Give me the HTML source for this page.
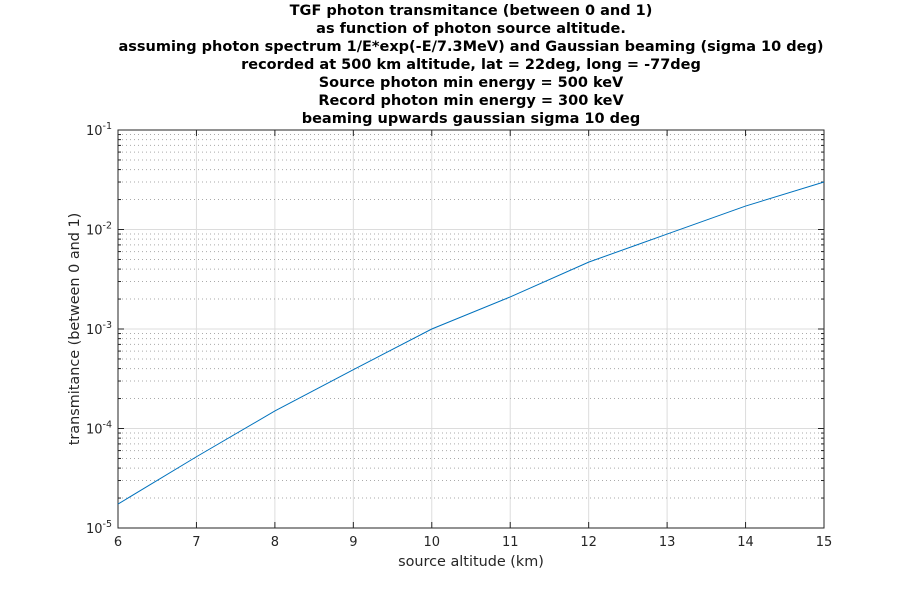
<!DOCTYPE html>
<html><head><meta charset="utf-8"><style>
body{margin:0;background:#fff;width:910px;height:593px;overflow:hidden}
text{font-family:"DejaVu Sans","Liberation Sans",sans-serif}
</style></head><body>
<svg id="chart" width="910" height="593" xmlns="http://www.w3.org/2000/svg">
<g id="title" font-weight="bold" font-size="14.5" text-anchor="middle" fill="#000">
<text x="471" y="15">TGF photon transmitance (between 0 and 1)</text>
<text x="471" y="33">as function of photon source altitude.</text>
<text x="471" y="51">assuming photon spectrum 1/E*exp(-E/7.3MeV) and Gaussian beaming (sigma 10 deg)</text>
<text x="471" y="69">recorded at 500 km altitude, lat = 22deg, long = -77deg</text>
<text x="471" y="87">Source photon min energy = 500 keV</text>
<text x="471" y="105">Record photon min energy = 300 keV</text>
<text x="471" y="123">beaming upwards gaussian sigma 10 deg</text>
</g>
<g id="grid"></g>
<g id="axes"></g>
<path id="line" fill="none" stroke="#0072bd" stroke-width="1"/>
<text x="471" y="566" font-size="14.4" text-anchor="middle" fill="#262626">source altitude (km)</text>
<text transform="translate(79,329) rotate(-90)" font-size="14.4" text-anchor="middle" fill="#262626">transmitance (between 0 and 1)</text>
</svg>
<script>
const altitudes=[6,7,8,9,10,11,12,13,14,15];
const transmittance=[1.74e-5,5.2e-5,1.5e-4,3.9e-4,1.0e-3,2.1e-3,4.7e-3,9.0e-3,1.72e-2,3.0e-2];
const xTicks=[6,7,8,9,10,11,12,13,14,15];
const yExps=[-5,-4,-3,-2,-1];
const L=118,R=824,T=130,B=528;
const xs=v=>L+(v-6)/(15-6)*(R-L);
const ys=v=>B-(Math.log10(v)+5)/4*(B-T);
const NS="http://www.w3.org/2000/svg";
function mk(p,tag,a){const e=document.createElementNS(NS,tag);for(const k in a)e.setAttribute(k,a[k]);p.appendChild(e);return e;}
const g=document.getElementById('grid'),ax=document.getElementById('axes');
for(const t of xTicks){const x=xs(t);
 const l=mk(g,'line',{x1:x,x2:x,y1:T,y2:B,stroke:'#dcdcdc','stroke-width':1});
 
 
 mk(ax,'line',{x1:x,x2:x,y1:B,y2:B-6,stroke:'#262626'});
 mk(ax,'line',{x1:x,x2:x,y1:T,y2:T+6,stroke:'#262626'});
 const tx=mk(ax,'text',{x:x,y:B+18,'font-size':13,'text-anchor':'middle',fill:'#262626'});tx.textContent=t;
 
 
}
for(let e=-5;e<-1;e++){for(let m=2;m<=9;m++){const y=ys(m*Math.pow(10,e));
 mk(g,'line',{x1:L,x2:R,y1:y,y2:y,stroke:'#aaa','stroke-width':1,'stroke-dasharray':'1,3'});
 mk(ax,'line',{x1:L,x2:L+3,y1:y,y2:y,stroke:'#262626'});
 mk(ax,'line',{x1:R,x2:R-3,y1:y,y2:y,stroke:'#262626'});}}
for(const e of yExps){const y=ys(Math.pow(10,e));
 mk(g,'line',{x1:L,x2:R,y1:y,y2:y,stroke:'#dcdcdc','stroke-width':1});
 mk(ax,'line',{x1:L,x2:L+6,y1:y,y2:y,stroke:'#262626'});
 mk(ax,'line',{x1:R,x2:R-6,y1:y,y2:y,stroke:'#262626'});
 const tx=mk(ax,'text',{x:L-6,y:y+5,'font-size':13,'text-anchor':'end',fill:'#262626'});
 tx.innerHTML='10<tspan dy="-6" font-size="9.5">'+e+'</tspan>';
 
 
}
const box=mk(ax,'rect',{x:L,y:T,width:R-L,height:B-T,fill:'none',stroke:'#262626','stroke-width':1});


document.getElementById('line').setAttribute('d',altitudes.map((a,i)=>(i?'L':'M')+xs(a)+','+ys(transmittance[i])).join(''));
</script>
</body></html>
